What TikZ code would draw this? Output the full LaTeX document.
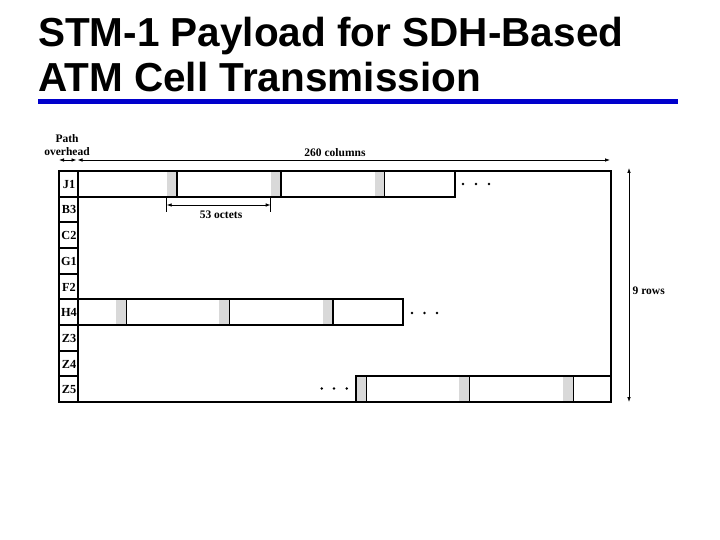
\documentclass[tikz,border=0pt]{standalone}
\usepackage{fontspec}
\setmainfont{Liberation Serif}
\newfontfamily\titlefont{Liberation Sans}
\usetikzlibrary{arrows.meta}
\definecolor{rulecol}{RGB}{0,0,204}
\definecolor{cellgray}{RGB}{217,217,217}
\begin{document}
\begin{tikzpicture}[x=1pt,y=-1pt,
  lbl/.style={font=\fontsize{11.5}{12}\selectfont\bfseries, inner sep=0pt},
  rowlbl/.style={font=\fontsize{12.3}{13}\selectfont\bfseries, inner sep=0pt},
  ttl/.style={font=\titlefont\fontsize{40.5}{44}\selectfont\bfseries, anchor=base west, inner sep=0pt},
  dim/.style={line width=0.8pt, {Latex[length=5pt,width=3.6pt]}-{Latex[length=5pt,width=3.6pt]}},
  frame/.style={line width=2.6pt},
  strip/.style={line width=1.9pt},
  hdr/.style={fill=cellgray},
  hdrline/.style={line width=1.2pt},
  tick/.style={line width=0.8pt},
  dot/.style={circle, fill=black, inner sep=0pt, minimum size=2.6pt}]
\useasboundingbox (0,0) rectangle (720,540);

% title
\node[ttl] (t1) at (38,47) {STM-1 Payload for SDH-Based};
\node[ttl] (t2) at (38,91.5) {ATM Cell Transmission};
\fill[rulecol] (38,99) rectangle (678,104);

% top labels
\node[lbl] (path) at (67,139) {Path};
\node[lbl] (ovh) at (67,152) {overhead};
\node[lbl] (cols) at (335,153) {260 columns};

% dimension coordinates
\coordinate (ohL) at (59,160);
\coordinate (ohR) at (76.5,160);
\coordinate (colL) at (77.5,160);
\coordinate (colR) at (610,160);
\draw[dim] (ohL) -- (ohR);
\draw[dim] (colL) -- (colR);

% J1 strip (gray headers + cells)
\foreach \x in {166.7,270.7,374.5}{
  \fill[hdr] (\x,171) rectangle ++(10.3,25.7);
  \draw[hdrline] (\x+10.3,171) -- ++(0,25.7);
}
\draw[strip] (78,196.7) -- (455,196.7) -- (455,171);

% 53 octets dimension
\coordinate (oA) at (166.7,205);
\coordinate (oB) at (270.7,205);
\draw[tick] (166.7,196.7) -- (166.7,212);
\draw[tick] (270.7,196.7) -- (270.7,212);
\draw[dim] (oA) -- (oB);
\node[lbl] (oct) at (221,214.5) {53 octets};
\node[dot] (d1a) at (463,184) {};
\node[dot] (d1b) at (476,184) {};
\node[dot] (d1c) at (489,184) {};

% H4 strip
\foreach \x in {116,219.3,322.7}{
  \fill[hdr] (\x,299.3) rectangle ++(10.2,25.7);
  \draw[hdrline] (\x+10.2,299.3) -- ++(0,25.7);
}
\draw[strip] (78,299.3) rectangle (403,325);
\node[dot] (d2a) at (412,313) {};
\node[dot] (d2b) at (424.5,313) {};
\node[dot] (d2c) at (437,313) {};

% Z5 strip
\foreach \x in {355.7,459.3,563}{
  \fill[hdr] (\x,376.3) rectangle ++(10.5,25.7);
  \draw[hdrline] (\x+10.5,376.3) -- ++(0,25.7);
}
\draw[strip] (355.7,402) -- (355.7,376.3) -- (611,376.3);
\node[dot] (d3a) at (321.7,388.5) {};
\node[dot] (d3b) at (334,388.5) {};
\node[dot] (d3c) at (346.7,388.5) {};

% overhead column
\foreach \k in {1,...,8}{
  \draw[strip] (59,171+25.67*\k) -- (78,171+25.67*\k);
}
\draw[strip] (78,171) -- (78,402);
\foreach \lab [count=\i from 0] in {J1,B3,C2,G1,F2,H4,Z3,Z4,Z5}{
  \node[rowlbl] (r\i) at (69,171+25.67*\i+13.3) {\lab};
}

% frame
\draw[frame] (59,171) rectangle (611,402);

% 9 rows
\coordinate (rT) at (629,168);
\coordinate (rB) at (629,402);
\draw[dim] (rT) -- (rB);
\node[lbl, anchor=west] (rows) at (632.5,291) {9 rows};
\end{tikzpicture}
\end{document}
